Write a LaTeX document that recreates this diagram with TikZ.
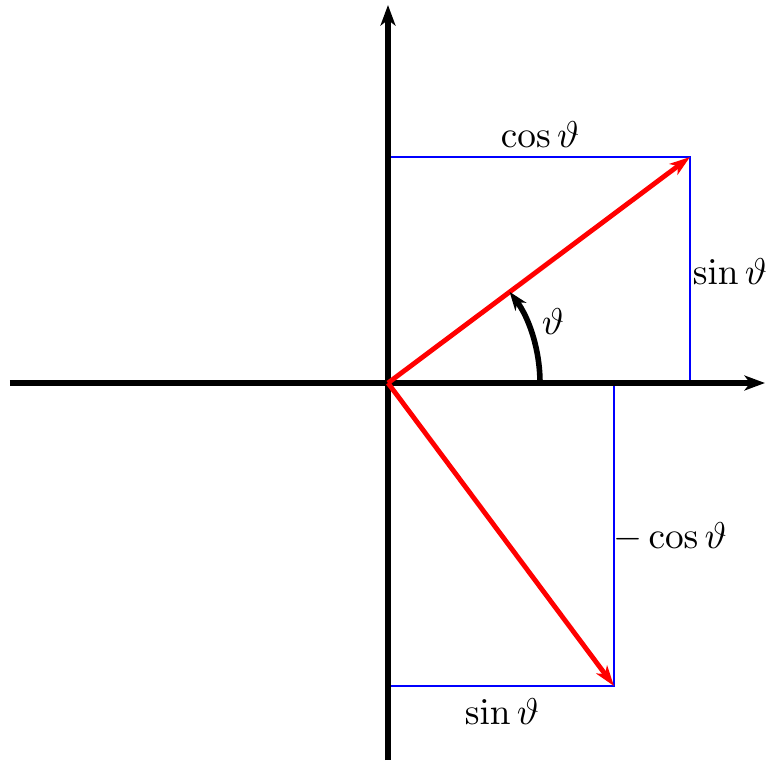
\documentclass[tikz,border=0pt]{standalone}
\usepackage{amsmath,amssymb}
\usepackage{tikz}
\usetikzlibrary{arrows.meta,positioning,calc}
\definecolor{vecred}{HTML}{FF0000}
\definecolor{projblue}{HTML}{0000FF}
\tikzset{
  axis/.style={-{Stealth[length=5.5pt,width=4pt,inset=1.5pt]},line width=1.6pt,black},
  vec/.style={-{Stealth[length=5.5pt,width=3.6pt,inset=1.5pt]},line width=1.3pt,vecred},
  proj/.style={line width=0.4pt,projblue},
  anglearrow/.style={-{Stealth[length=5pt,width=3.6pt,inset=1.5pt]},line width=1.5pt,black},
  label/.style={font=\normalsize}
}

\begin{document}
\begin{tikzpicture}[x=0.9425cm,y=0.9425cm]
  \useasboundingbox (-3.88,-3.77) rectangle (3.79,3.83);
  \coordinate (O) at (0,0);
  \coordinate (xl) at (-3.78,0);
  \coordinate (xr) at (3.77,0);
  \coordinate (yb) at (0,-3.77);
  \coordinate (yt) at (0,3.78);

  % projections
  \coordinate (p) at (3.02,2.26);
  \coordinate (q) at (2.26,-3.03);
  \coordinate (py) at (0,2.26);
  \coordinate (px) at (3.02,0);
  \coordinate (qx) at (2.26,0);
  \coordinate (qy) at (0,-3.03);
  \draw[proj] (py) -- (p) -- (px);
  \draw[proj] (qx) -- (q) -- (qy);

  % axes
  \draw[line width=1.6pt] (xl) -- (O);
  \draw[axis] (O) -- (xr);
  \draw[axis] (yb) -- (yt);

  % vectors
  \draw[vec] (O) -- (p);
  \draw[vec] (O) -- (q);

  % angle
  \draw[anglearrow] (1.52,0) arc[start angle=0,end angle=36.87,radius=1.52];

  \node[label] (cosl) at (1.52,2.48) {$\cos\vartheta$};
  \node[label] (sinl) at (3.42,1.11) {$\sin\vartheta$};
  \node[label] (thl) at (1.65,0.61) {$\vartheta$};
  \node[label] (mcosl) at (2.82,-1.54) {$-\cos\vartheta$};
  \node[label] (sinb) at (1.14,-3.29) {$\sin\vartheta$};
\end{tikzpicture}
\end{document}
